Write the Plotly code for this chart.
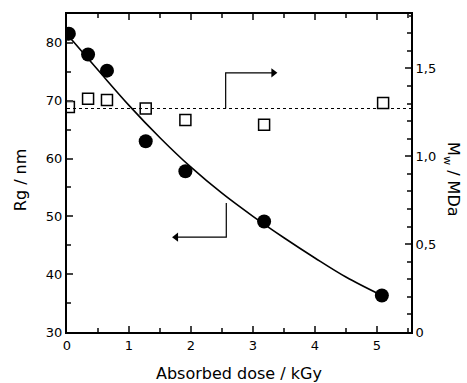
import plotly.graph_objects as go

# Rg data (filled circles)
dose_rg = [0.03, 0.34, 0.645, 1.27, 1.91, 3.18, 5.08]
rg = [81.6, 78.0, 75.2, 63.0, 57.8, 49.1, 36.3]

# Mw data (open squares)
dose_mw = [0.03, 0.34, 0.645, 1.27, 1.91, 3.18, 5.1]
mw = [1.28, 1.327, 1.32, 1.272, 1.206, 1.18, 1.304]

# fit curve
fit_x = [0.0, 0.5, 1.0, 1.5, 2.0, 2.5, 3.0, 3.5, 4.0, 4.5, 5.08]
fit_y = [81.5, 75.3, 69.2, 63.6, 58.5, 54.0, 50.0, 46.3, 42.8, 39.5, 36.3]

# mean Mw (dotted line)
mw_mean = 1.272
mw_line_x = [0.0, 5.55]

# arrows (x positions and levels)
up_arrow_x = [2.56, 3.33]
up_arrow_y = [1.272, 1.475]
low_arrow_x = [2.57, 1.76]
low_arrow_y = [52.3, 46.4]

fig = go.Figure()

fig.add_trace(go.Scatter(x=fit_x, y=fit_y, mode="lines", line=dict(color="black", width=1.6, shape="spline"),
                         showlegend=False, hoverinfo="skip"))
fig.add_trace(go.Scatter(x=mw_line_x, y=[mw_mean, mw_mean], yaxis="y2", mode="lines",
                         line=dict(color="black", width=1.2, dash="dot"), showlegend=False))
fig.add_trace(go.Scatter(x=dose_rg, y=rg, mode="markers",
                         marker=dict(symbol="circle", size=14, color="black"), showlegend=False))
fig.add_trace(go.Scatter(x=dose_mw, y=mw, yaxis="y2", mode="markers",
                         marker=dict(symbol="square-open", size=11, color="black", line=dict(width=1.5)),
                         showlegend=False))

# upper arrow (points to right axis)
fig.add_trace(go.Scatter(x=[up_arrow_x[0], up_arrow_x[0], up_arrow_x[1]],
                         y=[up_arrow_y[0], up_arrow_y[1], up_arrow_y[1]], yaxis="y2", mode="lines",
                         line=dict(color="black", width=1.2), showlegend=False, hoverinfo="skip"))
fig.add_trace(go.Scatter(x=[up_arrow_x[1]], y=[up_arrow_y[1]], yaxis="y2", mode="markers",
                         marker=dict(symbol="triangle-right", size=8, color="black"),
                         showlegend=False, hoverinfo="skip"))
# lower arrow (points to left axis)
fig.add_trace(go.Scatter(x=[low_arrow_x[0], low_arrow_x[0], low_arrow_x[1]],
                         y=[low_arrow_y[0], low_arrow_y[1], low_arrow_y[1]], mode="lines",
                         line=dict(color="black", width=1.2), showlegend=False, hoverinfo="skip"))
fig.add_trace(go.Scatter(x=[low_arrow_x[1]], y=[low_arrow_y[1]], mode="markers",
                         marker=dict(symbol="triangle-left", size=8, color="black"),
                         showlegend=False, hoverinfo="skip"))

font = dict(family="DejaVu Sans, sans-serif", size=13, color="black")

fig.update_layout(
    width=467, height=383,
    margin=dict(l=67, r=56, t=14, b=51),
    paper_bgcolor="white", plot_bgcolor="white",
    font=font,
    xaxis=dict(range=[0, 5.55], dtick=1, tick0=0, ticks="inside", ticklen=6, tickwidth=1.5,
               showline=True, linecolor="black", linewidth=2, mirror="ticks", showgrid=False,
               zeroline=False, minor=dict(dtick=0.5, ticks="inside", ticklen=4, tickwidth=1.5)),
    yaxis=dict(range=[30, 85], dtick=10, tick0=30, ticks="inside", ticklen=6, tickwidth=1.5,
               showline=True, linecolor="black", linewidth=2, showgrid=False, zeroline=False,
               minor=dict(dtick=5, ticks="inside", ticklen=4, tickwidth=1.5)),
    yaxis2=dict(range=[0, 1.81], overlaying="y", side="right", tickvals=[0, 0.5, 1.0, 1.5],
                ticktext=["0", "0,5", "1,0", "1,5"], ticks="inside", ticklen=6, tickwidth=1.5,
                showline=True, linecolor="black", linewidth=2, showgrid=False, zeroline=False,
                minor=dict(dtick=0.1, tick0=0, ticks="inside", ticklen=4, tickwidth=1.5)),
)

fig.add_annotation(xref="paper", yref="paper", x=0.5, y=-0.132, text="Absorbed dose / kGy",
                   showarrow=False, font=dict(size=16), xanchor="center", yanchor="middle")
fig.add_annotation(xref="paper", yref="paper", x=-0.137, y=0.48, text="Rg / nm",
                   textangle=-90, showarrow=False, font=dict(size=16), xanchor="center", yanchor="middle")
fig.add_annotation(xref="paper", yref="paper", x=1.12, y=0.48, text="M<sub>w</sub> / MDa",
                   textangle=90, showarrow=False, font=dict(size=16), xanchor="center", yanchor="middle")

fig.write_html("out.html")
